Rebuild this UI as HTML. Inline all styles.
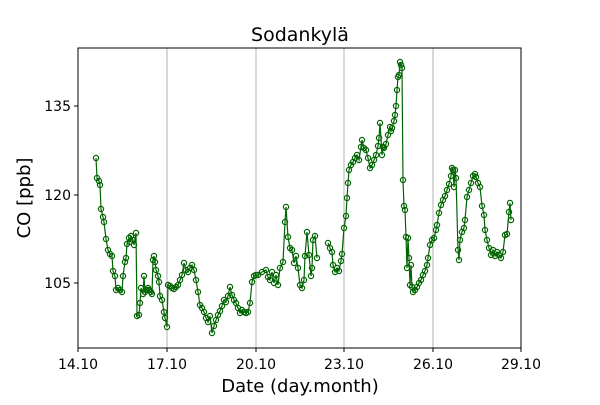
<!DOCTYPE html>
<html><head><meta charset="utf-8"><style>body{margin:0;background:#fff}</style></head><body>
<svg width="600" height="400" xmlns="http://www.w3.org/2000/svg" font-family="DejaVu Sans, Liberation Sans, sans-serif">
<rect width="600" height="400" fill="#fff"/>
<g stroke="#b0b0b0" stroke-width="1">
<line x1="167" y1="48" x2="167" y2="348"/><line x1="256" y1="48" x2="256" y2="348"/><line x1="344" y1="48" x2="344" y2="348"/><line x1="433" y1="48" x2="433" y2="348"/>
</g>
<g fill="none" stroke="#006400" stroke-width="1.2">
<polyline id="a" points="96,158 97,178 99,181 100,185 101,209 103,217 104,222 106,239 108,250 110,254 112,256 113,271 115,276 116,290 118,288 120,290 122,292 123,276 125,262 126,258 127,244 129,238 130,242 131,236 133,240 134,245 136,233 137,316 139,315 140,303 141,288 143,294 144,276 145,292 147,290 148,288 149,290 151,292 152,294 153,260 154,256 155,262 156,270 158,276 159,282 160,296 162,300 164,312 165,318 167,327 168,285 170,286 172,288 174,289 176,287 178,285 180,280 182,275 184,263 186,270 188,272 190,268 192,265 194,270 196,280 198,292 200,305 202,308 204,312 206,318 208,322 210,316 212,333 214,326 216,320 218,315 220,311 222,306 224,300 226,302 228,296 230,287 232,295 234,300 236,303 238,308 240,313 242,310 244,312 246,313 248,312 250,303 252,282 254,276 256,275 258,275 262,272 266,270 268,277 270,280 272,272 274,283 276,275 278,285 280,268 283,262 285,222 286,207 288,237 290,248 292,250 294,263 296,256 298,268 300,285 302,288 304,280 305,256 307,232 309,255 311,276 312,268 313,240 315,236 317,258"/>
<polyline id="b" points="328,243 330,248 332,252 333,265 335,272 337,268 339,271 341,261 342,254 344,228 346,216 347,198 348,183 349,170 351,165 353,162 355,158 357,155 359,160 361,147 362,140 364,148 366,150 368,158 370,168 372,165 374,160 376,155 378,146 379,138 380,123 382,155 383,147 384,148 386,144 388,135 390,127 391,131 392,128 394,121 395,115 396,106 397,90 398,77 399,75 400,62 401,65 402,68 403,180 404,206 405,210 406,237 407,268 408,238 409,258 410,285 411,265 412,287 413,292 415,290 417,287 419,283 421,280 423,275 425,271 427,265 428,258 430,245 432,240 434,238 436,230 437,225 439,213 441,205 443,200 445,196 447,190 449,184 451,176 452,168 453,170 454,187 455,170 456,178 458,250 459,260 460,240 462,232 464,228 465,220 467,197 469,190 471,183 473,176 475,174 476,177 478,183 480,187 482,206 484,215 485,230 487,240 489,248 491,255 493,250 495,256 497,252 499,255 501,258 503,252 505,235 507,234 509,212 510,203 511,220"/>
</g>
<g id="m" fill="none" stroke="#006400" stroke-width="1.2"></g>
<rect x="78" y="48" width="443" height="300" fill="none" stroke="#000" stroke-width="1"/>
<g stroke="#000"><line x1="78" y1="348" x2="78" y2="352"/><line x1="167" y1="348" x2="167" y2="352"/><line x1="256" y1="348" x2="256" y2="352"/><line x1="344" y1="348" x2="344" y2="352"/><line x1="433" y1="348" x2="433" y2="352"/><line x1="521" y1="348" x2="521" y2="352"/>
<line x1="74" y1="106" x2="78" y2="106"/><line x1="74" y1="195" x2="78" y2="195"/><line x1="74" y1="283" x2="78" y2="283"/></g>
<g font-size="14" fill="#000" text-anchor="middle">
<text x="78" y="369">14.10</text><text x="167" y="369">17.10</text><text x="256" y="369">20.10</text><text x="344" y="369">23.10</text><text x="433" y="369">26.10</text><text x="521" y="369">29.10</text></g>
<g font-size="14" fill="#000" text-anchor="end"><text x="71" y="111">135</text><text x="71" y="200">120</text><text x="71" y="288">105</text></g>
<text x="300" y="41" font-size="19" text-anchor="middle">Sodankylä</text>
<text x="300" y="392" font-size="18" text-anchor="middle">Date (day.month)</text>
<text transform="translate(30,198) rotate(-90)" font-size="18" text-anchor="middle">CO [ppb]</text>
<script>
var g=document.getElementById('m');
['a','b'].forEach(function(id){document.getElementById(id).getAttribute('points').trim().split(/\s+/).forEach(function(p){var c=p.split(',');var e=document.createElementNS('http://www.w3.org/2000/svg','circle');e.setAttribute('cx',c[0]);e.setAttribute('cy',c[1]);e.setAttribute('r','2.6');g.appendChild(e);});});
</script>
</svg>
</body></html>
